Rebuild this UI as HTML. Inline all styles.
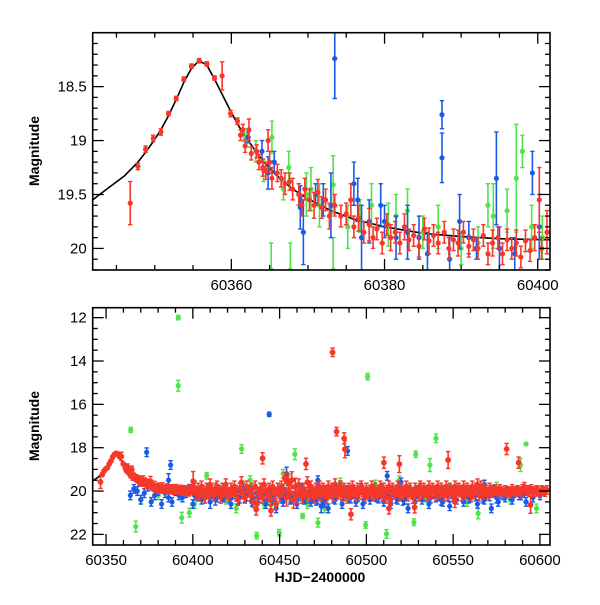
<!DOCTYPE html>
<html><head><meta charset="utf-8"><style>
body{margin:0;background:#fff;}
svg text{font-family:"Liberation Sans",sans-serif;fill:#000;}
</style></head><body>
<svg id="chart" width="600" height="600" viewBox="0 0 600 600" xmlns="http://www.w3.org/2000/svg"></svg>
<script>
// ---------- data ----------
const modelX=[60341.9,60343,60344.5,60346,60347.8,60348.8,60349.8,60350.8,60351.8,60352.8,60353.8,60354.8,60355.8,60356.8,60357.8,60359,60360,60361,60362,60364,60366,60368,60370,60373,60376,60380,60385,60390,60395,60401.6];
const modelY=[19.55,19.49,19.41,19.33,19.2,19.11,19.01,18.9,18.77,18.62,18.46,18.33,18.26,18.3,18.43,18.6,18.74,18.87,18.98,19.18,19.33,19.45,19.54,19.65,19.73,19.8,19.86,19.89,19.91,19.92];

// top panel series: [x, mag, err]
const redTop=[[60346.8,19.58,.2],[60347.8,19.24,.03],[60348.8,19.08,.03],[60349.8,18.98,.03],[60350.8,18.92,.03],[60351.8,18.75,.02],[60352.8,18.61,.02],[60353.8,18.43,.02],[60354.8,18.31,.02],[60355.8,18.26,.02],[60356.8,18.29,.02],[60357.8,18.42,.02],[60358.8,18.40,.13],[60359.9,18.75,.03],[60360.8,18.82,.03],
[60361.2,18.95,.05],[60361.5,18.9,.05],[60361.8,19.05,.06],[60362.3,18.9,.1],[60362.6,19.12,.06],[60363.3,19.1,.06],[60363.6,19.2,.07],[60364.1,19.25,.08],[60364.5,19.28,.08],[60364.8,19.0,.1],[60365.0,19.2,.1],[60365.3,19.35,.1],[60366.0,19.3,.08],[60366.5,19.35,.08],[60367.0,19.4,.1],[60367.6,19.38,.08],[60368.0,19.45,.1],[60368.8,19.5,.1],[60369.2,19.6,.1],[60369.6,19.45,.1],[60370.2,19.55,.1],[60370.8,19.6,.12],[60371.3,19.48,.12],[60371.8,19.62,.1],[60372.3,19.55,.1],[60372.8,19.7,.12],[60373.5,19.6,.1],[60374.3,19.7,.1],[60375.0,19.68,.1],[60375.6,19.55,.15],[60376.0,19.8,.1],[60376.6,19.72,.12],[60377.3,19.85,.1],[60378.0,19.78,.15],[60378.5,19.9,.1],[60379.0,19.82,.1],[60379.7,19.95,.1],[60380.3,19.78,.1],[60380.8,19.9,.12],[60381.4,19.85,.1],[60382.0,19.95,.1],[60382.6,19.8,.12],[60383.2,19.92,.1],[60383.8,19.88,.1],[60384.5,19.98,.1],[60385.2,19.82,.1],[60385.8,19.93,.12],[60386.4,19.88,.1],[60387.0,19.95,.1],[60387.8,19.85,.1],[60388.4,20.0,.1],[60389.0,19.92,.1],[60389.6,19.95,.12],[60390.3,19.85,.1],[60391.0,19.98,.1],[60391.6,19.92,.1],[60392.2,20.0,.1],[60392.9,19.88,.1],[60393.5,20.05,.1],[60394.1,19.95,.12],[60394.8,19.9,.1],[60395.4,20.05,.1],[60396.0,19.92,.1],[60396.6,20.0,.1],[60397.2,19.95,.12],[60397.8,20.08,.1],[60398.4,19.93,.1],[60399.0,20.02,.1],[60399.6,19.9,.12],[60400.2,19.55,.3],[60400.5,20.0,.1],[60401.2,19.85,.2]];
const blueTop=[[60362.2,18.97,.05],[60364.0,19.1,.1],[60364.8,19.3,.15],[60365.6,19.2,.1],[60369.0,19.62,.2],[60369.4,19.85,.3],[60371.0,19.5,.1],[60372.0,19.55,.15],[60373.0,19.6,.3],[60373.5,18.24,.37],[60376.0,19.4,.2],[60376.5,19.55,.2],[60377.0,19.9,.3],[60378.0,19.75,.2],[60379.5,19.6,.2],[60380.0,19.75,.15],[60381.5,19.9,.2],[60383.0,19.85,.25],[60384.5,19.9,.2],[60385.6,20.05,.2],[60387.5,18.76,.13],[60387.5,19.16,.23],[60388.5,20.1,.2],[60389.8,19.75,.25],[60391.0,19.9,.15],[60392.0,20.0,.1],[60394.6,19.35,.43],[60395.0,20.0,.2],[60397.0,20.05,.15],[60399.3,19.3,.2],[60400.2,19.8,.3]];
const greenTop=[[60361.7,18.95,.06],[60362.0,19.0,.06],[60363.2,19.1,.1],[60364.2,19.28,.1],[60365.3,18.97,.15],[60365.2,20.2,.25],[60366.8,19.45,.1],[60367.5,19.25,.15],[60367.7,20.2,.25],[60369.8,19.5,.2],[60370.4,19.45,.2],[60371.5,19.6,.2],[60373.3,19.41,.27],[60373.3,20.2,.3],[60375.2,19.8,.2],[60376.8,19.7,.15],[60378.3,19.6,.2],[60380.5,19.78,.2],[60381.5,19.7,.2],[60383.0,19.65,.2],[60385.0,19.85,.15],[60387.0,19.8,.2],[60390.0,20.0,.15],[60392.2,19.95,.15],[60393.5,19.6,.2],[60394.2,19.7,.3],[60396.0,19.65,.2],[60397.2,19.35,.5],[60398.0,19.1,.15],[60399.2,19.8,.2],[60400.6,19.9,.2]];

// bottom panel extra series (band + outliers): [x, mag, err]
const redBand=[[60402,20.1,.2],[60403,19.9,.2],[60404,20.2,.2],[60405,19.8,.2],[60406,20.0,.2],[60407,20.3,.2],[60408,19.9,.2],[60409,20.1,.2],[60410,19.7,.2],[60411,20.0,.2],[60412,20.2,.2],[60413,19.9,.2],[60414,19.8,.2],[60415,20.1,.2],[60416,20.3,.2],[60417,19.9,.2],[60418,20.0,.2],[60419,19.7,.2],[60420,20.1,.2],[60421,20.2,.2],[60422,19.9,.2],[60423,20.0,.2],[60424,19.8,.2],[60425,20.2,.2],[60426,20.4,.2],[60427,19.9,.2],[60428,19.6,.2],[60429,20.1,.2],[60430,20.3,.2],[60431,19.8,.2],[60432,20.0,.2],[60433,20.2,.2],[60434,19.9,.2],[60435,20.5,.2],[60436,19.8,.2],[60437,20.6,.2],[60438,20.1,.2],[60439,19.9,.2],[60440,20.3,.2],[60441,19.7,.2],[60442,20.0,.2],[60443,20.2,.2],[60444,19.9,.2],[60445,20.4,.2],[60446,19.8,.2],[60447,20.1,.2],[60448,20.6,.2],[60449,19.9,.2],[60450,20.2,.2],[60451,19.8,.2],[60452,20.0,.2],[60453,19.4,.2],[60454,20.3,.3],[60455,19.6,.3],[60456,20.1,.3],[60457,19.5,.3],[60458,20.4,.3],[60459,19.8,.3],[60460,20.2,.3],[60461,19.7,.2],[60462,20.0,.2],[60463,20.3,.2],[60464,19.9,.2],[60465,20.1,.2],[60466,19.6,.2],[60467,20.2,.2],[60468,19.8,.2],[60469,20.0,.2],[60470,20.3,.2],[60471,19.9,.2],[60472,20.1,.2],[60473,19.8,.2],[60474,20.2,.2],[60475,19.9,.2],[60476,20.0,.2],[60477,20.3,.2],[60478,19.8,.2],[60479,20.1,.2],[60480,19.9,.2],[60481,20.2,.2],[60482,19.7,.2],[60483,20.0,.2],[60484,20.1,.2],[60485,19.8,.2],[60486,20.2,.2],[60487,19.9,.2],[60488,20.0,.2],[60489,20.3,.2],[60490,19.9,.2],[60491,20.1,.2],[60492,19.8,.2],[60493,20.0,.2],[60494,20.2,.2],[60495,19.9,.2],[60496,20.1,.2],[60497,19.8,.2],[60498,20.0,.2],[60499,20.2,.2],[60500,19.9,.2],[60501,20.1,.2],[60502,20.0,.2],[60503,19.8,.2],[60504,20.2,.2],[60505,19.9,.2],[60506,20.1,.2],[60507,20.0,.2],[60508,19.8,.2],[60509,20.2,.2],[60510,19.9,.2],[60511,20.3,.2],[60512,20.0,.2],[60513,19.8,.2],[60514,20.4,.2],[60515,19.9,.2],[60516,20.1,.2],[60517,20.0,.2],[60518,19.8,.2],[60519,20.2,.2],[60520,19.9,.2],[60521,20.1,.2],[60522,20.0,.2],[60523,19.8,.2],[60524,20.2,.2],[60525,19.9,.2],[60526,20.1,.2],[60527,20.3,.2],[60528,19.9,.2],[60529,20.0,.2],[60530,20.2,.2],[60531,19.8,.2],[60532,20.1,.2],[60533,19.9,.2],[60534,20.0,.2],[60535,20.2,.2],[60536,19.8,.2],[60537,20.1,.2],[60538,19.9,.2],[60539,20.0,.2],[60540,20.2,.2],[60541,19.8,.2],[60542,20.1,.2],[60543,19.9,.2],[60544,20.0,.2],[60545,20.2,.2],[60546,19.8,.2],[60547,20.1,.2],[60548,19.9,.2],[60549,20.0,.2],[60550,20.2,.2],[60551,19.8,.2],[60552,20.1,.2],[60553,19.9,.2],[60554,20.0,.2],[60555,20.2,.2],[60556,19.8,.2],[60557,20.1,.2],[60558,19.9,.2],[60559,20.0,.2],[60560,20.2,.2],[60561,19.8,.2],[60562,20.1,.2],[60563,19.9,.2],[60564,19.7,.2],[60565,20.2,.2],[60566,19.8,.2],[60567,20.1,.2],[60568,19.9,.2],[60569,20.0,.2],[60570,20.1,.2],[60571,19.9,.2],[60572,20.0,.2],[60573,20.1,.15],[60574,19.9,.15],[60575,20.0,.15],[60576,20.1,.15],[60577,19.9,.15],[60578,20.0,.15],[60579,20.1,.15],[60580,19.95,.15],[60581,20.05,.15],[60582,20.0,.15],[60583,20.1,.15],[60584,19.9,.15],[60585,20.0,.15],[60586,20.05,.15],[60587,19.95,.15],[60588,20.0,.15],[60589,20.1,.15],[60590,19.9,.15],[60591,19.8,.15],[60592,20.0,.15],[60593,19.95,.15],[60594,20.05,.15],[60595,19.9,.15],[60596,20.0,.15],[60597,20.05,.15],[60598,19.95,.15],[60599,20.0,.15],[60600,20.1,.15],[60601,19.95,.15],[60602,20.0,.15],[60603,20.05,.15],[60604,19.95,.15],
[60480.5,13.6,.15],[60482.8,17.26,.15],[60487.2,17.57,.2],[60487.6,18.07,.3],[60580.8,18.06,.2],[60510.1,18.69,.2],[60519.0,18.76,.3],[60547.1,18.57,.3],[60465.2,18.75,.2],[60440.2,18.49,.2],[60491.1,21.07,.2],[60594.6,20.64,.3],[60587.7,18.69,.2],[60436.5,20.85,.2],[60445.0,20.9,.2],[60513.0,20.8,.2],[60527.8,20.75,.2],[60551.0,20.5,.2]];
const blueBand=[[60364,20.2,.2],[60370,20.4,.2],[60376,20.5,.2],[60382,20.6,.2],[60388,20.5,.2],[60394,20.3,.2],[60400,20.6,.2],[60405,20.4,.2],[60410,20.5,.3],[60414,20.1,.4],[60418,20.3,.2],[60422,20.6,.2],[60426,20.4,.2],[60430,20.2,.3],[60434,20.5,.2],[60438,20.3,.2],[60442,20.6,.2],[60446,20.4,.2],[60448,20.8,.2],[60452,20.5,.2],[60456,20.3,.3],[60460,20.6,.2],[60464,20.4,.2],[60468,20.5,.2],[60472,20.2,.4],[60474,20.7,.3],[60476,20.4,.3],[60478,20.8,.2],[60482,20.4,.2],[60486,20.6,.2],[60490,20.3,.2],[60494,20.5,.2],[60498,20.6,.2],[60502,20.4,.2],[60506,20.3,.2],[60510,20.5,.2],[60514,20.6,.2],[60518,20.4,.2],[60522,20.3,.3],[60524,20.8,.2],[60528,20.5,.2],[60532,20.4,.2],[60536,20.6,.2],[60540,20.2,.3],[60544,20.5,.2],[60548,20.7,.2],[60552,20.4,.2],[60556,20.5,.2],[60560,20.3,.2],[60564,20.6,.2],[60568,20.4,.2],[60572,20.8,.2],[60576,20.5,.2],[60580,20.3,.2],[60584,20.4,.2],[60588,20.2,.2],[60592,20.5,.2],[60596,20.3,.2],[60600,20.2,.2],
[60444.0,16.46,.1],[60373.4,18.21,.2],[60387.2,18.8,.2],[60489.2,18.15,.2],[60386.0,19.5,.3],[60454.0,19.2,.3],[60472.0,19.5,.2],[60512.0,19.3,.2],[60568.0,19.7,.2],[60520.0,19.6,.2]];
const blueBand2=[[60403,20.2,.25],[60405,20.0,.25],[60407,20.3,.25],[60409,19.9,.25],[60411,20.1,.25],[60413,20.4,.25],[60415,20.0,.25],[60417,20.2,.25],[60419,19.9,.25],[60421,20.3,.25],[60423,20.1,.25],[60425,20.0,.25],[60427,20.3,.25],[60429,19.9,.25],[60431,20.2,.25],[60433,20.0,.25],[60435,20.3,.25],[60437,20.1,.25],[60439,19.9,.25],[60441,20.2,.25],[60443,20.4,.25],[60445,20.0,.25],[60447,20.2,.25],[60449,19.9,.25],[60451,20.3,.25],[60453,20.1,.25],[60455,20.0,.25],[60457,20.3,.25],[60459,20.1,.25],[60461,20.2,.25],[60463,19.9,.25],[60465,20.3,.25],[60467,20.0,.25],[60469,20.2,.25],[60471,20.4,.25],[60473,20.1,.25],[60475,20.5,.25],[60477,20.2,.25],[60479,20.0,.25],[60481,20.3,.25],[60483,20.1,.25],[60485,19.9,.25],[60487,20.2,.25],[60489,20.0,.25],[60491,20.3,.25],[60493,20.1,.25],[60495,20.2,.25],[60497,19.9,.25],[60499,20.3,.25],[60501,20.1,.25],[60503,20.0,.25],[60505,20.2,.25],[60507,20.3,.25],[60509,19.9,.25],[60511,20.1,.25],[60513,20.2,.25],[60515,20.0,.25],[60517,20.3,.25],[60519,20.1,.25],[60521,20.4,.25],[60523,20.2,.25],[60525,20.0,.25],[60527,20.3,.25],[60529,20.1,.25],[60531,19.9,.25],[60533,20.2,.25],[60535,20.0,.25],[60537,20.3,.25],[60539,20.1,.25],[60541,20.2,.25],[60543,20.4,.25],[60545,20.0,.25],[60547,20.2,.25],[60549,20.1,.25],[60551,20.3,.25],[60553,19.9,.25],[60555,20.2,.25],[60557,20.0,.25],[60559,20.3,.25],[60561,20.1,.25],[60563,20.2,.25],[60565,20.0,.25],[60567,20.3,.25],[60569,20.1,.25],[60571,20.2,.25],[60573,20.0,.25],[60575,20.3,.25],[60577,20.1,.25],[60579,20.2,.2],[60581,20.0,.2],[60583,20.2,.2],[60585,20.1,.2],[60587,20.0,.2],[60589,20.2,.2],[60591,20.1,.2],[60593,20.0,.2],[60366,19.9,.2],[60368,20.0,.2],[60372,20.1,.2],[60374,19.8,.2],[60378,20.2,.2],[60380,20.0,.2],[60384,20.1,.2],[60386,20.3,.2],[60390,20.0,.2],[60392,20.2,.2],[60396,20.1,.2],[60398,19.9,.2],[60401,20.2,.2]];
const greenBand=[[60391.6,12.0,.1],[60391.6,15.14,.25],[60364.2,17.18,.12],[60367.1,21.64,.25],[60393.6,21.23,.25],[60428.1,18.06,.2],[60436.8,22.06,.15],[60449.8,21.92,.15],[60458.8,18.3,.25],[60463.3,21.15,.12],[60472.1,21.46,.2],[60500.7,14.72,.15],[60499.6,21.57,.15],[60511.6,21.98,.2],[60528.4,18.3,.15],[60527.4,21.44,.15],[60540.1,17.57,.2],[60536.6,18.8,.3],[60564.4,21.03,.25],[60592.0,17.83,.05],[60588.8,18.8,.3],[60408,19.3,.15],[60419,20.4,.2],[60433,19.5,.2],[60441,20.6,.2],[60452,19.2,.2],[60455,19.5,.2],[60466,20.6,.2],[60476,20.8,.2],[60485,19.6,.2],[60495,20.3,.2],[60505,19.7,.2],[60519,19.5,.2],[60534,20.3,.2],[60548,19.9,.2],[60558,20.5,.2],[60575,19.8,.2],[60583,20.4,.2],[60598,20.8,.2],[60370,20.4,.2],[60380,20.2,.2],[60398,21.0,.2],[60401,20.6,.2],[60425,20.8,.2],[60445,20.5,.2]];

// tick labels
const topXTicks=[60360,60380,60400];
const topYTicks=[18.5,19,19.5,20];
const topYLabels=["18.5","19","19.5","20"];
const botXTicks=[60350,60400,60450,60500,60550,60600];
const botYTicks=[12,14,16,18,20,22];

// ---------- drawing ----------
const NS="http://www.w3.org/2000/svg";
const svg=document.getElementById('chart');
const COL={red:"#f5382a",blue:"#1a5be6",green:"#4ee44a"};
function mk(tag,attrs,parent){const e=document.createElementNS(NS,tag);for(const k in attrs)e.setAttribute(k,attrs[k]);(parent||svg).appendChild(e);return e;}

function panel(name,L,R,T,B,x0,x1,y0,y1){
  const g=mk('g',{});
  
  
  const sx=v=>L+(v-x0)/(x1-x0)*(R-L);
  const sy=v=>T+(v-y0)/(y1-y0)*(B-T);
  const cp=mk('clipPath',{id:name+'-clip'},g);mk('rect',{x:L,y:T,width:R-L,height:B-T},cp);
  const plot=mk('g',{'clip-path':'url(#'+name+'-clip)'},g);
  return {g,plot,sx,sy,L,R,T,B,x0,x1,y0,y1};
}
function frame(p,xmaj,xmin,ymaj,ymin,xlab,ylab){
  const f=mk('rect',{x:p.L,y:p.T,width:p.R-p.L,height:p.B-p.T,fill:'none',stroke:'#000','stroke-width':1.6},p.g);
  
  
  for(let v=Math.ceil(p.x0/xmin)*xmin;v<=p.x1;v+=xmin){
    const maj=Math.abs(v/xmaj-Math.round(v/xmaj))<1e-6, len=maj?11:5, x=p.sx(v);
    mk('line',{x1:x,x2:x,y1:p.T,y2:p.T+len,stroke:'#000','stroke-width':1.3},p.g);
    mk('line',{x1:x,x2:x,y1:p.B,y2:p.B-len,stroke:'#000','stroke-width':1.3},p.g);
  }
  const ylo=Math.min(p.y0,p.y1),yhi=Math.max(p.y0,p.y1);
  for(let i=Math.ceil(ylo/ymin-1e-6);i*ymin<=yhi+1e-9;i++){
    const v=i*ymin;const maj=Math.abs(v/ymaj-Math.round(v/ymaj))<1e-6,len=maj?11:5,y=p.sy(v);
    mk('line',{x1:p.L,x2:p.L+len,y1:y,y2:y,stroke:'#000','stroke-width':1.3},p.g);
    mk('line',{x1:p.R,x2:p.R-len,y1:y,y2:y,stroke:'#000','stroke-width':1.3},p.g);
  }
  xlab.forEach(v=>{const t=mk('text',{x:p.sx(v),y:p.B+20,'font-size':15,'text-anchor':'middle'},p.g);t.textContent=v;
    
    });
  ylab.forEach(([v,s])=>{const t=mk('text',{x:p.L-6,y:p.sy(v)+5,'font-size':15,'text-anchor':'end'},p.g);t.textContent=s;
    
    });
}
function points(p,data,color,name,errScale,r){
  errScale=errScale||1; r=r||2.6;
  const g=mk('g',{},p.plot);
  
  
  data.forEach(([x,y,e])=>{
    const cx=p.sx(x),cy=p.sy(y),ya=p.sy(y-e*errScale),yb=p.sy(y+e*errScale);
    mk('line',{x1:cx,x2:cx,y1:ya,y2:yb,stroke:color,'stroke-width':1.6},g);
    mk('line',{x1:cx-2.2,x2:cx+2.2,y1:ya,y2:ya,stroke:color,'stroke-width':1.4},g);
    mk('line',{x1:cx-2.2,x2:cx+2.2,y1:yb,y2:yb,stroke:color,'stroke-width':1.4},g);
    mk('circle',{cx:cx,cy:cy,r:r,fill:color},g);
  });
}
function model(p){
  const d=modelX.map((x,i)=>(i?'L':'M')+p.sx(x).toFixed(2)+','+p.sy(modelY[i]).toFixed(2)).join(' ');
  const path=mk('path',{d:d,fill:'none',stroke:'#000','stroke-width':1.6,'stroke-linejoin':'round'},p.plot);
  
  
}

// top panel
const topP=panel('top-panel',92.7,550,32.7,270,60341.9,60401.6,18.0,20.2);
model(topP);
points(topP,greenTop,COL.green,'green-series');
points(topP,blueTop,COL.blue,'blue-series');
points(topP,redTop,COL.red,'red-series');
frame(topP,20,5,0.5,0.1,topXTicks,topYTicks.map((v,i)=>[v,topYLabels[i]]));

// bottom panel
const botP=panel('bottom-panel',92.7,550,307.7,545,60342.3,60605.8,11.54,22.49);
model(botP);
points(botP,greenBand,COL.green,'green-series');
points(botP,blueBand,COL.blue,'blue-series');
points(botP,blueBand2,COL.blue,'blue-series-band');
points(botP,redTop,COL.red,'red-series-early',1.5,2.9);
points(botP,redBand,COL.red,'red-series',1.3,2.9);
frame(botP,50,10,2,0.5,botXTicks,botYTicks.map(v=>[v,String(v)]));

// axis titles
function title(txt,x,y,rot,name){const t=mk('text',{x:x,y:y,'font-size':14,'font-weight':'bold','text-anchor':'middle',transform:rot?`rotate(-90 ${x} ${y})`:''});t.textContent=txt;
  
  }
title('Magnitude',39,151,true,'top-y-axis-title');
title('Magnitude',39,426,true,'bottom-y-axis-title');
title('HJD\u22122400000',320,582,false,'x-axis-title');
</script>
</body></html>
